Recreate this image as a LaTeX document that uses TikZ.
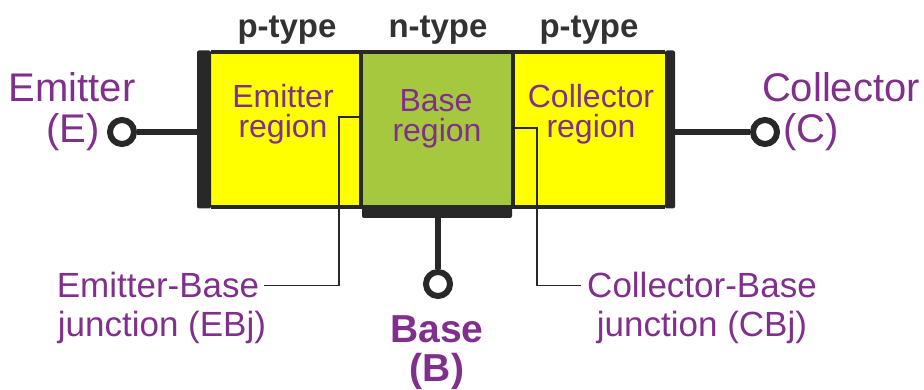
\documentclass[tikz,border=0pt]{standalone}
\usepackage{fontspec}
\setmainfont{Liberation Sans}
\usetikzlibrary{positioning}

\definecolor{ptype}{RGB}{255,255,0}
\definecolor{ntype}{RGB}{166,200,62}
\definecolor{lblpurple}{RGB}{128,48,140}
\definecolor{darkline}{RGB}{40,40,40}
\definecolor{typegray}{RGB}{50,50,50}

\tikzset{
  region/.style={rectangle, inner sep=0pt, outer sep=0pt},
  endbar/.style={rectangle, fill=darkline, rounded corners=2pt, inner sep=0pt, outer sep=0pt},
  term/.style={circle, draw=darkline, line width=6pt, fill=white, minimum size=24pt, inner sep=0pt},
  lead/.style={draw=darkline, line width=6pt},
  leader/.style={draw=darkline, line width=1.8pt},
  typelbl/.style={font=\bfseries\fontsize{33}{33}\selectfont, text=typegray, anchor=base, inner sep=0pt},
  reglbl/.style={font=\fontsize{32}{32}\selectfont, text=lblpurple, anchor=base, inner sep=0pt},
  termlbl/.style={font=\fontsize{40}{40}\selectfont, text=lblpurple, anchor=base, inner sep=0pt},
  junclbl/.style={font=\fontsize{35}{35}\selectfont, text=lblpurple, anchor=base, inner sep=0pt},
  baselbl/.style={font=\bfseries\fontsize{39}{39}\selectfont, text=lblpurple, anchor=base, inner sep=0pt},
}

\begin{document}
\begin{tikzpicture}[x=1pt,y=-1pt]
\useasboundingbox (0,0) rectangle (924,390);

% the three regions
\node[region, fill=ptype, minimum width=150pt, minimum height=155pt] (emreg) at (286,129.5) {};
\node[region, fill=ntype, minimum width=152pt, minimum height=155pt] (basereg) at (437,129.5) {};
\node[region, fill=ptype, minimum width=152pt, minimum height=155pt] (colreg) at (589,129.5) {};

\draw[darkline, line width=3.5pt] (emreg.north west) -- (colreg.north east);
\draw[darkline, line width=3.5pt] (emreg.south west) -- (colreg.south east);
\draw[darkline, line width=4.5pt] (basereg.north west) -- (basereg.south west);
\draw[darkline, line width=4.5pt] (basereg.north east) -- (basereg.south east);

% contact bars
\node[endbar, minimum width=14pt, minimum height=158pt] (ebar) at (204,129.5) {};
\node[endbar, minimum width=10pt, minimum height=158pt] (cbar) at (670,129.5) {};
\node[endbar, minimum width=150pt, minimum height=11pt] (bbar) at (437,212.5) {};

% terminals
\node[term] (eterm) at (122,132) {};
\node[term] (cterm) at (765,132) {};
\node[term] (bterm) at (438,284) {};

\draw[lead] (eterm.east) -- (eterm.east -| ebar.west);
\draw[lead] (cbar.east |- cterm.west) -- (cterm.west);
\draw[lead] (bterm.north |- bbar.south) -- (bterm.north);

% type labels
\node[typelbl] (ptype1) at (287,38) {p-type};
\node[typelbl] (ntype1) at (438,38) {n-type};
\node[typelbl] (ptype2) at (589,38) {p-type};

% region labels
\node[reglbl] (emtxt) at (283,108) {Emitter};
\node[reglbl] (emtxt2) at (283,138) {region};
\node[reglbl] (basetxt) at (436,112) {Base};
\node[reglbl] (basetxt2) at (437,142) {region};
\node[reglbl] (coltxt) at (591,108) {Collector};
\node[reglbl] (coltxt2) at (591,138) {region};

% terminal labels
\node[termlbl] (emlbl) at (72,102) {Emitter};
\node[termlbl] (emlbl2) at (73,143) {(E)};
\node[termlbl] (collbl) at (841,102) {Collector};
\node[termlbl] (collbl2) at (811,143) {(C)};
\node[baselbl] (baselbl) at (437,342) {Base};
\node[baselbl] (baselbl2) at (437,381) {(B)};

% junction labels
\node[junclbl] (ebjlbl) at (158,298) {Emitter-Base};
\node[junclbl] (ebjlbl2) at (162,336) {junction (EBj)};
\node[junclbl] (cbjlbl) at (702,298) {Collector-Base};
\node[junclbl] (cbjlbl2) at (702,336) {junction (CBj)};

\coordinate (ebjknee) at (339,117);
\coordinate (cbjknee) at (537,128);

\draw[leader] ([xshift=5pt]ebjlbl.east) -| (ebjknee) -- (ebjknee -| basereg.west);
\draw[leader] ([xshift=-6pt]cbjlbl.west) -| (cbjknee) -- (cbjknee -| basereg.east);
\end{tikzpicture}
\end{document}
